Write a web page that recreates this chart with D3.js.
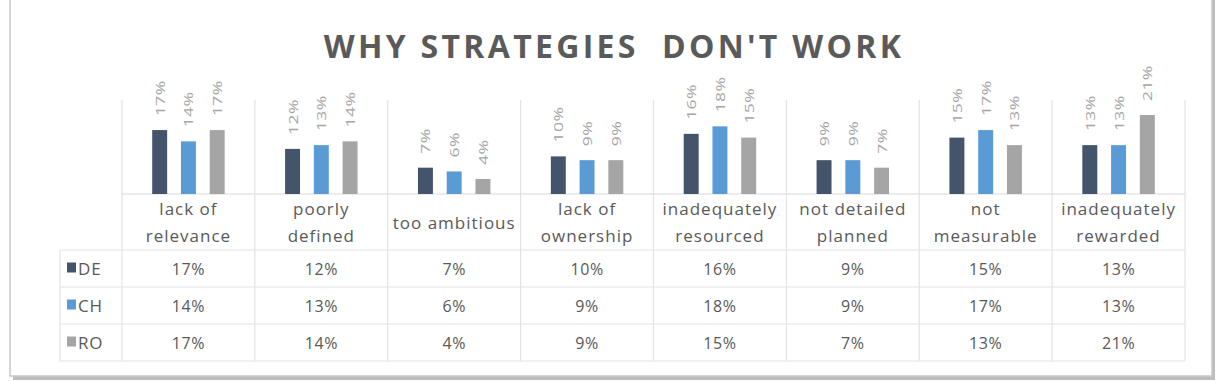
<!DOCTYPE html>
<html>
<head>
<meta charset="utf-8">
<script src="https://cdn.jsdelivr.net/npm/d3@7"></script>
<style>
  body { margin: 0; background: #fff; }
  text { font-family: "Open Sans", "Liberation Sans", sans-serif; }
</style>
</head>
<body>
<div id="chart"></div>
<script>
var categories = [["lack of", "relevance"], ["poorly", "defined"], ["too ambitious"], ["lack of", "ownership"],
  ["inadequately", "resourced"], ["not detailed", "planned"], ["not", "measurable"], ["inadequately", "rewarded"]];
var seriesNames = ["DE", "CH", "RO"];
var deValues = [17, 12, 7, 10, 16, 9, 15, 13];
var chValues = [14, 13, 6, 9, 18, 9, 17, 13];
var roValues = [17, 14, 4, 9, 15, 7, 13, 21];
var colors = ["#44546a", "#5b9bd5", "#a5a5a5"];

var W = 1226, H = 381;
var plotLeft = 122, plotRight = 1185, plotTop = 100, baseY = 194;
var tableLeft = 60, catRowBottom = 250, rowH = 37;

var series = [deValues, chValues, roValues];

var svg = d3.select('#chart').append('svg')
  .attr('width', W).attr('height', H);

// frame with shadow
svg.append('rect').attr('x', 13).attr('y', -5).attr('width', 1202).attr('height', 385)
  .attr('fill', '#bdbdbd');
svg.append('rect').attr('x', 10).attr('y', -5).attr('width', 1202).attr('height', 381)
  .attr('fill', '#fff').attr('stroke', '#c8c8c8').attr('stroke-width', 1.5);

// title
svg.append('text')
  .attr('x', 614).attr('y', 58)
  .attr('text-anchor', 'middle')
  .attr('font-size', 32).attr('font-weight', 700)
  .attr('letter-spacing', 3.3)
  .attr('fill', '#5a5a5a')
  .style('white-space', 'pre')
  .text("WHY STRATEGIES  DON'T WORK");

var x0 = d3.scaleBand().domain(d3.range(categories.length)).range([plotLeft, plotRight]);
var x1 = d3.scaleBand().domain(d3.range(seriesNames.length)).range([0, x0.bandwidth()])
  .paddingInner(0.48).paddingOuter(1.05);
var y = d3.scaleLinear().domain([0, 25]).range([baseY, plotTop]);

var tableBottom = catRowBottom + rowH * 3;
var gridColor = '#e3e3e3';

// vertical grid lines of the data table
var bounds = d3.range(categories.length + 1).map(function (i) {
  return i < categories.length ? x0(i) : x0(i - 1) + x0.bandwidth();
});
svg.selectAll('.vline').data(bounds).enter().append('line')
  .attr('x1', function (d) { return d; }).attr('x2', function (d) { return d; })
  .attr('y1', plotTop).attr('y2', tableBottom)
  .attr('stroke', gridColor).attr('stroke-width', 1.2);
svg.append('line').attr('x1', tableLeft).attr('x2', tableLeft)
  .attr('y1', catRowBottom).attr('y2', tableBottom)
  .attr('stroke', gridColor).attr('stroke-width', 1.2);

// horizontal lines
svg.append('line').attr('x1', plotLeft).attr('x2', plotRight)
  .attr('y1', baseY).attr('y2', baseY).attr('stroke', '#d9d9d9').attr('stroke-width', 1.2);
d3.range(4).forEach(function (r) {
  svg.append('line').attr('x1', tableLeft).attr('x2', plotRight)
    .attr('y1', catRowBottom + r * rowH).attr('y2', catRowBottom + r * rowH)
    .attr('stroke', gridColor).attr('stroke-width', 1.2);
});

// bars and labels (labels stretched along their length like the source)
series.forEach(function (vals, s) {
  var g = svg.append('g');
  g.selectAll('rect').data(vals).enter().append('rect')
    .attr('x', function (d, i) { return x0(i) + x1(s); })
    .attr('y', function (d) { return y(d); })
    .attr('width', x1.bandwidth())
    .attr('height', function (d) { return baseY - y(d); })
    .attr('fill', colors[s]);
  g.selectAll('text').data(vals).enter().append('text')
    .attr('transform', function (d, i) {
      return 'translate(' + (x0(i) + x1(s) + x1.bandwidth() / 2 + 5) + ',' + (y(d) - 14) + ') rotate(-90) scale(1.35,1)';
    })
    .attr('font-size', 13).attr('letter-spacing', 0.3).attr('fill', '#a6a6a6')
    .text(function (d) { return d + '%'; });
});

// category labels
categories.forEach(function (lines, i) {
  var cx = x0(i) + x0.bandwidth() / 2;
  var t = svg.append('text').attr('text-anchor', 'middle')
    .attr('font-size', 17).attr('letter-spacing', 1).attr('fill', '#595959');
  var startY = lines.length === 1 ? 229 : 215;
  lines.forEach(function (ln, k) {
    t.append('tspan').attr('x', cx).attr('y', startY + k * 27).text(ln);
  });
});

// table rows
series.forEach(function (vals, s) {
  var ry = catRowBottom + s * rowH + rowH / 2 + 6;
  svg.append('rect').attr('x', 67).attr('y', ry - 12).attr('width', 9).attr('height', 10)
    .attr('fill', colors[s]);
  svg.append('text').attr('x', 78).attr('y', ry).attr('font-size', 17)
    .attr('letter-spacing', 0.8).attr('fill', '#595959').text(seriesNames[s]);
  svg.selectAll(null).data(vals).enter().append('text')
    .attr('x', function (d, i) { return x0(i) + x0.bandwidth() / 2; })
    .attr('y', ry).attr('text-anchor', 'middle')
    .attr('font-size', 16).attr('letter-spacing', 0.6).attr('fill', '#595959')
    .text(function (d) { return d + '%'; });
});
</script>
</body>
</html>
